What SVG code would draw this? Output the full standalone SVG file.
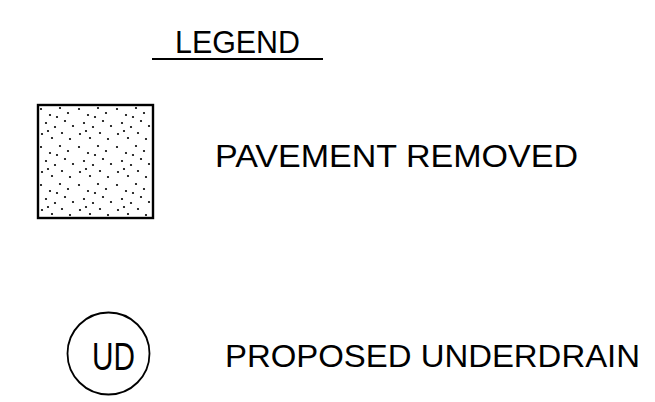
<svg xmlns="http://www.w3.org/2000/svg" width="655" height="402" viewBox="0 0 655 402">
  <defs>
    <style>
      .t { font-family: "Liberation Sans", Arial, sans-serif; fill: #000; }
      .ln { stroke: #000; fill: none; }
      .dot { fill: #000; }
    </style>
    <pattern id="stipple" x="38" y="105" width="38" height="38" patternUnits="userSpaceOnUse">
      <g class="dot">
        <circle cx="3" cy="4" r="1.1"/>
        <circle cx="12" cy="10" r="1.1"/>
        <circle cx="22" cy="3" r="1.1"/>
        <circle cx="30" cy="8" r="1.1"/>
        <circle cx="8" cy="18" r="1.1"/>
        <circle cx="17" cy="22" r="1.1"/>
        <circle cx="27" cy="16" r="1.1"/>
        <circle cx="35" cy="21" r="1.1"/>
        <circle cx="4" cy="29" r="1.1"/>
        <circle cx="14" cy="33" r="1.1"/>
        <circle cx="24" cy="28" r="1.1"/>
        <circle cx="32" cy="34" r="1.1"/>
        <circle cx="19" cy="12" r="1.1"/>
        <circle cx="10" cy="26" r="1.1"/>
      </g>
    </pattern>
  </defs>
  <rect width="655" height="402" fill="#fff"/>

  <g id="title">
    <text class="t" x="175" y="53" font-size="32" textLength="125" lengthAdjust="spacingAndGlyphs">LEGEND</text>
    <line class="ln" x1="152" y1="59" x2="323" y2="59" stroke-width="2"/>
  </g>

  <g id="pavement-removed">
    <rect x="38" y="105" width="115" height="113" fill="url(#stipple)" stroke="#000" stroke-width="2.4"/>
    <text class="t" x="215" y="167" font-size="31" textLength="363" lengthAdjust="spacingAndGlyphs">PAVEMENT REMOVED</text>
  </g>

  <g id="proposed-underdrain">
    <circle class="ln" cx="108.5" cy="353.5" r="41" stroke-width="1.8"/>
    <text class="t" x="92" y="370" font-size="38" textLength="43" lengthAdjust="spacingAndGlyphs">UD</text>
    <text class="t" x="225" y="367" font-size="31" textLength="415" lengthAdjust="spacingAndGlyphs">PROPOSED UNDERDRAIN</text>
  </g>

  <g id="connectors"/>
</svg>
